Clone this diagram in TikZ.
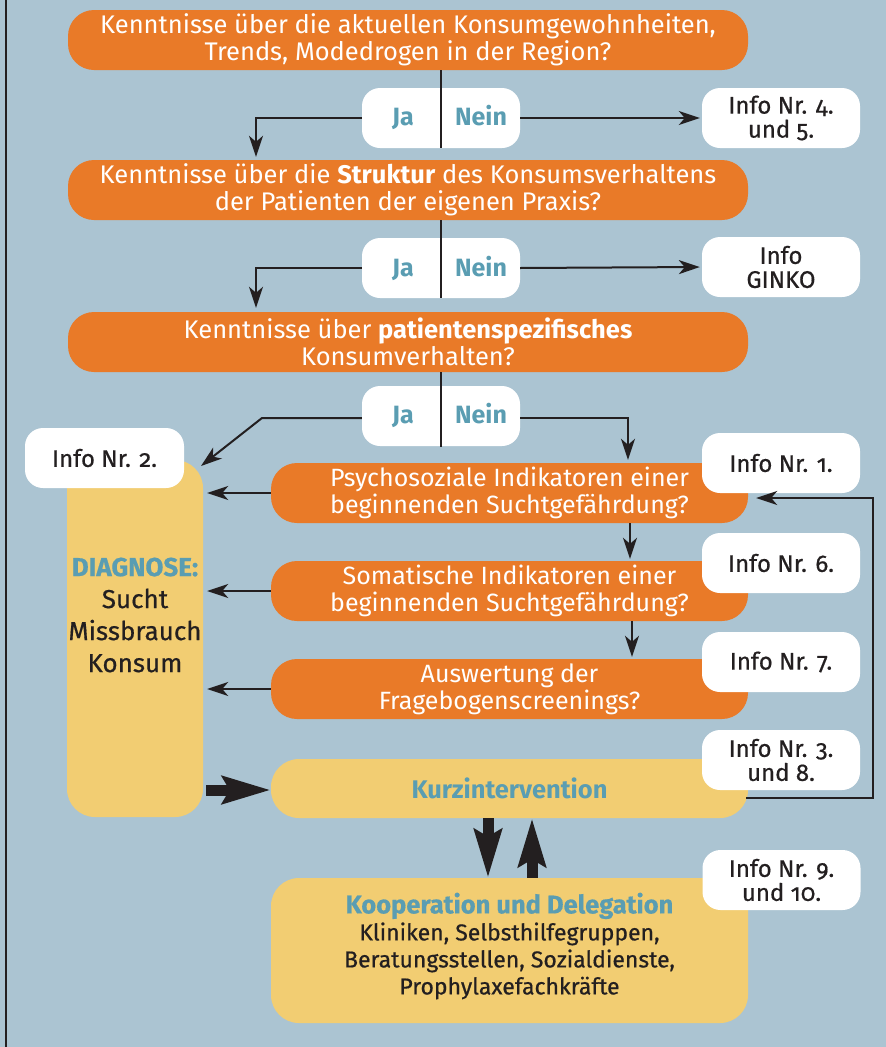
\documentclass[tikz,border=0pt]{standalone}
\usepackage{fontspec}
\setmainfont{Fira Sans}[Numbers=OldStyle]
\newfontfamily\medfont{Fira Sans}[Numbers=OldStyle,FakeBold=0.6]
\usetikzlibrary{arrows.meta,calc}
\definecolor{bgc}{HTML}{ABC4D2}
\definecolor{orng}{HTML}{E97A28}
\definecolor{ylw}{HTML}{F2CD72}
\definecolor{tealtxt}{HTML}{5A9DB2}
\definecolor{ink}{HTML}{231F20}
\tikzset{
  qbox/.style={fill=orng, rounded corners=26pt, minimum width=680pt, minimum height=60pt, text=white, align=center, inner sep=0pt, font=\fontsize{25.5}{27}\selectfont},
  sbox/.style={fill=orng, rounded corners=26pt, minimum width=477pt, minimum height=60pt, text=white, align=center, inner sep=0pt, font=\fontsize{25}{27}\selectfont},
  ybox/.style={fill=ylw, rounded corners=28pt, inner sep=0pt, align=center},
  infobox/.style={fill=white, rounded corners=18pt, minimum width=158pt, minimum height=60pt, text=ink, align=center, inner sep=0pt, font=\medfont\fontsize{24}{24}\selectfont},
  jnbox/.style={fill=white, rounded corners=18pt, minimum width=158pt, minimum height=60pt, inner sep=0pt},
  jnlbl/.style={text=tealtxt, inner sep=0pt, text height=17pt, text depth=0pt, font=\bfseries\fontsize{25}{27}\selectfont},
  arr/.style={draw=ink, line width=2pt, -{Stealth[length=21pt,width=14pt,inset=6pt]}},
  plain/.style={draw=ink, line width=2pt},
  fatarr/.style={draw=ink, line width=11pt, -{Stealth[length=48pt,width=27pt,inset=7pt]}}
}
\begin{document}
\begin{tikzpicture}[x=1pt,y=-1pt]
\fill[bgc] (0,0) rectangle (886,1047);
\useasboundingbox (0,0) rectangle (886,1047);
\draw[ink, line width=2.5pt] (6,0) -- (6,1047);

% main question boxes
\node[qbox] (b1) at (408,40) {Kenntnisse über die aktuellen Konsumgewohnheiten,\\Trends, Modedrogen in der Region?};
\node[qbox] (b2) at (408,190) {Kenntnisse über die \textbf{Struktur} des Konsumsverhaltens\\der Patienten der eigenen Praxis?};
\node[qbox] (b3) at (408,342) {Kenntnisse über \textbf{patientenspezifisches}\\Konsumverhalten?};

% Ja / Nein boxes
\node[jnbox] (jn1) at (441,118) {};
\node[jnbox] (jn2) at (441,268) {};
\node[jnbox] (jn3) at (441,416) {};
\foreach \j/\y in {1/117,2/268,3/415}{
  \node[jnlbl] (ja\j) at (403,\y) {Ja};
  \node[jnlbl] (nein\j) at (481,\y) {Nein};
}
\draw[plain] (jn1.south |- b1.south) -- (jn1.south);
\draw[plain] (jn2.south |- b2.south) -- (jn2.south);
\draw[plain] (jn3.south |- b3.south) -- ([yshift=-1pt]jn3.south);

% diagnose and lower boxes
\node[ybox, minimum width=136pt, minimum height=357pt] (diag) at (135,638.5) {};
\node[align=center, inner sep=0pt, font=\medfont\fontsize{26}{32}\selectfont, text=ink] (diagtxt) at (135,615) {{\bfseries\color{tealtxt}DIAGNOSE:}\\Sucht\\Missbrauch\\Konsum};
\node[sbox] (psy) at (509.5,493) {Psychosoziale Indikatoren einer\\beginnenden Suchtgefährdung?};
\node[sbox] (som) at (509.5,591) {Somatische Indikatoren einer\\beginnenden Suchtgefährdung?};
\node[sbox] (aus) at (509.5,689) {Auswertung der\\Fragebogenscreenings?};
\node[ybox, minimum width=477pt, minimum height=59pt, text=tealtxt, font=\bfseries\fontsize{25.5}{27}\selectfont] (kurz) at (509.5,788.5) {Kurzintervention};
\node[ybox, minimum width=477pt, minimum height=145pt] (koop) at (509.5,950.5) {};
\node[align=center, inner sep=0pt, text=ink, font=\medfont\fontsize{23}{27}\selectfont] (kooptxt) at (509.5,946) {{\bfseries\color{tealtxt}\fontsize{25.5}{27}\selectfont Kooperation und Delegation}\\Kliniken, Selbsthilfegruppen,\\Beratungsstellen, Sozialdienste,\\Prophylaxefachkräfte};

% info boxes
\node[infobox] (i45) at (781,118) {Info Nr. 4.\\und 5.};
\node[infobox] (ig) at (781,267) {Info\\GINKO};
\node[infobox, minimum width=159pt] (i2) at (104.5,458) {Info Nr. 2.};
\node[infobox] (i1) at (781,463) {Info Nr. 1.};
\node[infobox] (i6) at (781,563) {Info Nr. 6.};
\node[infobox] (i7) at (781,662) {Info Nr. 7.};
\node[infobox] (i38) at (781,760) {Info Nr. 3.\\und 8.};
\node[infobox] (i910) at (781.5,880) {Info Nr. 9.\\und 10.};

% connectors
\draw[arr] (jn1.west) -| ([xshift=-152pt,yshift=3pt]b2.north);
\draw[arr, shorten >=2pt] (jn1.east) -- (i45.west);
\draw[arr] (jn2.west) -| ([xshift=-152pt,yshift=4pt]b3.north);
\draw[arr, shorten >=2pt] (jn2.east) -- (ig.west);

\coordinate (jabend) at (262,418);
\coordinate (diagtip) at (201,466);
\draw[arr] ([yshift=-2pt]jn3.west) -- (jabend) -- (diagtip);
\draw[arr] ([yshift=-2pt]jn3.east) -| ([xshift=118.5pt,yshift=3pt]psy.north);

\draw[arr] ([xshift=120.5pt]psy.south) -- ([xshift=120.5pt,yshift=2pt]som.north);
\draw[arr] ([xshift=122.5pt]som.south) -- ([xshift=122.5pt,yshift=2pt]aus.north);

\draw[arr, shorten >=4pt] (psy.west) -- (psy.west -| diag.east);
\draw[arr, shorten >=4pt] (som.west) -- (som.west -| diag.east);
\draw[arr, shorten >=4pt] (aus.west) -- (aus.west -| diag.east);

\coordinate (rcorner) at (873,798);
\draw[arr] ([xshift=-2pt,yshift=-9.5pt]kurz.east) -- (rcorner) |- ([xshift=8pt,yshift=-5pt]psy.east);

\draw[fatarr] ([xshift=3pt,yshift=-1.5pt]kurz.west -| diag.east) -- ([yshift=-1.5pt]kurz.west);
\draw[fatarr] ([xshift=-21.5pt]kurz.south) -- ([xshift=-21.5pt]koop.north);
\draw[fatarr] ([xshift=22.5pt]koop.north) -- ([xshift=22.5pt]kurz.south);
\end{tikzpicture}
\end{document}
